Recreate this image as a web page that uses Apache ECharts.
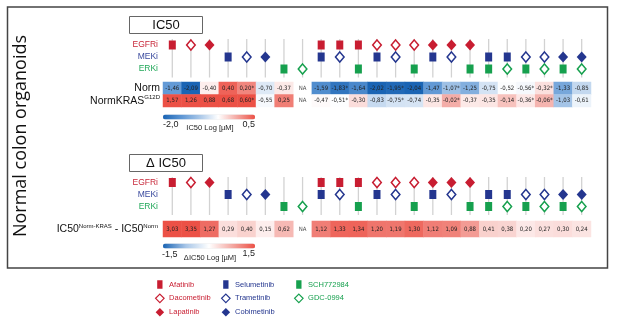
<!DOCTYPE html>
<html>
<head>
<meta charset="utf-8">
<script src="https://cdn.jsdelivr.net/npm/echarts@6/dist/echarts.min.js"></script>
<style>
    html, body { margin: 0; padding: 0; background: #fff; }
    #chart { width: 617px; height: 327px; }
</style>
</head>
<body>
<div id="chart"></div>
<script>
// drugs and their class (row of the marker panel)
const drugs = ["Afatinib", "Dacometinib", "Lapatinib", "Selumetinib", "Trametinib", "Cobimetinib", "SCH772984", "GDC-0994"]
const drugClass = ["EGFRi", "EGFRi", "EGFRi", "MEKi", "MEKi", "MEKi", "ERKi", "ERKi"]
const classRows = ["ERKi", "MEKi", "EGFRi"]

// one entry per column (single drugs then combinations)
const columns = [
    ["Afatinib"], ["Dacometinib"], ["Lapatinib"], ["Selumetinib"], ["Trametinib"], ["Cobimetinib"], ["SCH772984"], ["GDC-0994"],
    ["Afatinib", "Selumetinib"], ["Afatinib", "Trametinib"], ["Afatinib", "SCH772984"],
    ["Dacometinib", "Selumetinib"], ["Dacometinib", "Trametinib"], ["Dacometinib", "SCH772984"],
    ["Lapatinib", "Selumetinib"], ["Lapatinib", "Trametinib"], ["Lapatinib", "SCH772984"],
    ["Selumetinib", "SCH772984"], ["Selumetinib", "GDC-0994"],
    ["Trametinib", "SCH772984"], ["Trametinib", "GDC-0994"],
    ["Cobimetinib", "SCH772984"], ["Cobimetinib", "GDC-0994"]
]

// log IC50 values (null = NA)
const normIC50 = [-1.46, -2.09, -0.40, 0.40, 0.20, -0.70, -0.37, null, -1.59, -1.83, -1.64, -2.02, -1.95, -2.04, -1.47, -1.07, -1.25, -0.75, -0.52, -0.56, -0.32, -1.33, -0.85]
const krasIC50 = [1.57, 1.26, 0.88, 0.68, 0.60, -0.55, 0.25, null, -0.47, -0.51, -0.30, -0.83, -0.75, -0.74, -0.35, -0.02, -0.37, -0.35, -0.14, -0.36, -0.06, -1.03, -0.61]
const deltaIC50 = [3.03, 3.35, 1.27, 0.29, 0.40, 0.15, 0.62, null, 1.12, 1.33, 1.34, 1.20, 1.19, 1.30, 1.12, 1.09, 0.88, 0.41, 0.38, 0.20, 0.27, 0.30, 0.24]
const normStars = [4, 9, 12, 15, 19, 20]
const krasStars = [4, 9, 12, 15, 19, 20]
const deltaStars = []

const RED = "#c81d31", BLUE = "#24368f", GREEN = "#16a04e"
const classColor = { EGFRi: "#c8283a", MEKi: "#3a4a9e", ERKi: "#22a85a" }
const drugColor = [RED, RED, RED, BLUE, BLUE, BLUE, GREEN, GREEN]
const drugShape = ["square", "hollow", "diamond", "square", "hollow", "diamond", "square", "hollow"]
const cellFont = '"Liberation Sans Narrow", "DejaVu Sans Condensed", sans-serif'
const textFont = '"Liberation Sans", Arial, sans-serif'

const fmt = v => v.toFixed(2).replace(".", ",")

let chart = echarts.init(document.getElementById("chart"))

const gridLeft = 163, gridWidth = 428
let grids = [
    { left: gridLeft, width: gridWidth, top: 39, height: 36 },      // markers top
    { left: gridLeft, width: gridWidth, top: 82, height: 25 },      // heatmap top
    { left: gridLeft, width: gridWidth, top: 176.5, height: 36 },   // markers bottom
    { left: gridLeft, width: gridWidth, top: 221, height: 16 }      // heatmap bottom
]
let colNames = columns.map(c => c.join(" + "))
let xAxes = grids.map((g, i) => ({ type: "category", gridIndex: i, data: colNames, show: false }))

let supRich = {
    a: { fontSize: 10.5, fontFamily: textFont, color: "#111", lineHeight: 12 },
    s: { fontSize: 6, fontFamily: textFont, color: "#111", verticalAlign: "top" }
}
let markerYAxis = gi => ({
    type: "category", gridIndex: gi, data: classRows,
    axisLine: { show: false }, axisTick: { show: false }, splitLine: { show: false },
    axisLabel: { interval: 0, hideOverlap: false, margin: 5, fontSize: 8.5, fontFamily: textFont, color: v => classColor[v] }
})
let yAxes = [
    markerYAxis(0),
    {
        type: "category", gridIndex: 1, data: ["NormKRAS", "Norm"],
        axisLine: { show: false }, axisTick: { show: false },
        axisLabel: {
            interval: 0, hideOverlap: false, margin: 3,
            formatter: v => v === "Norm" ? "{a|Norm}" : "{a|NormKRAS}{s|G12D}",
            rich: supRich
        }
    },
    markerYAxis(2),
    {
        type: "category", gridIndex: 3, data: ["delta"],
        axisLine: { show: false }, axisTick: { show: false },
        axisLabel: {
            interval: 0, margin: 5,
            formatter: () => "{a|IC50}{s|Norm-KRAS}{a| - IC50}{s|Norm}",
            rich: supRich
        }
    }
]

let series = []

function stems(gi, above, below) {
    series.push({
        type: "custom", xAxisIndex: gi, yAxisIndex: gi, silent: true, z: 1,
        data: columns.map((c, i) => [i, 0]),
        renderItem: function (params, api) {
            let top = api.coord([api.value(0), 2])
            let bot = api.coord([api.value(0), 0])
            return {
                type: "line",
                shape: { x1: top[0], y1: top[1] - above, x2: bot[0], y2: bot[1] + below },
                style: { stroke: "#d2d2d2", lineWidth: 1.3 }
            }
        }
    })
}

function markers(gi) {
    drugs.forEach((d, k) => {
        let pts = []
        columns.forEach((c, i) => { if (c.includes(d)) pts.push([i, drugClass[k]]) })
        let shape = drugShape[k]
        series.push({
            name: d, type: "scatter", xAxisIndex: gi, yAxisIndex: gi, z: 3, data: pts,
            symbol: shape === "square" ? "rect" : "diamond",
            symbolSize: shape === "square" ? [7, 9] : (shape === "hollow" ? [8.5, 10] : [10, 11]),
            itemStyle: shape === "hollow"
                ? { color: "#fff", borderColor: drugColor[k], borderWidth: 1.6, opacity: 1 }
                : { color: drugColor[k], opacity: 1 },
            emphasis: { disabled: true }
        })
    })
}

function heat(gi, rows, stars) {
    let data = [], na = []
    rows.forEach(r => {
        r.values.forEach((v, i) => {
            if (v === null) na.push([i, r.name])
            else data.push([i, r.name, v])
        })
    })
    series.push({
        type: "heatmap", xAxisIndex: gi, yAxisIndex: gi, data: data,
        label: {
            show: true, fontSize: 6, fontFamily: cellFont, color: "#222",
            formatter: p => fmt(p.value[2]) + (stars[p.value[1]].includes(p.value[0]) ? "*" : "")
        },
        emphasis: { disabled: true }
    })
    let heatIndex = series.length - 1
    series.push({
        type: "scatter", xAxisIndex: gi, yAxisIndex: gi, data: na, symbolSize: 0, silent: true,
        label: { show: true, position: "inside", formatter: "NA", fontSize: 6, fontFamily: cellFont, color: "#222" }
    })
    return heatIndex
}

stems(0, 6, 8.5)
markers(0)
let topHeat = heat(1, [{ name: "Norm", values: normIC50 }, { name: "NormKRAS", values: krasIC50 }],
    { Norm: normStars, NormKRAS: krasStars })
stems(2, 5.5, 8.5)
markers(2)
let bottomHeat = heat(3, [{ name: "delta", values: deltaIC50 }], { delta: deltaStars })

let squareIcon = "path://M0,0H5V8H0Z"
let legendItem = k => ({
    name: drugs[k],
    icon: drugShape[k] === "square" ? squareIcon : "diamond",
    itemStyle: drugShape[k] === "hollow"
        ? { color: "#fff", borderColor: drugColor[k], borderWidth: 1.2 }
        : { color: drugColor[k], borderWidth: 0 },
    textStyle: { color: drugColor[k] }
})
let legendBase = {
    orient: "vertical", top: 280, itemWidth: 8.5, itemHeight: 8.5, itemGap: 4.5, padding: 0,
    selectedMode: false, symbolKeepAspect: true,
    textStyle: { fontSize: 7.5, fontFamily: textFont, lineHeight: 9 }
}

let option = {
    animation: false,
    grid: grids,
    xAxis: xAxes,
    yAxis: yAxes,
    visualMap: [
        {
            type: "continuous", seriesIndex: topHeat, min: -2, max: 0.5,
            orient: "horizontal", left: 163, top: 114.5, itemWidth: 5, itemHeight: 92,
            calculable: false, padding: 0, hoverLink: false,
            inRange: { color: ["#1a64b4", "#5d96d4", "#a9c7e8", "#ffffff", "#f4aaa4", "#ec5146"] }
        },
        {
            type: "continuous", seriesIndex: bottomHeat, min: -1.5, max: 1.5,
            orient: "horizontal", left: 163, top: 243.5, itemWidth: 5, itemHeight: 92,
            calculable: false, padding: 0, hoverLink: false,
            inRange: { color: ["#1a64b4", "#a9c7e8", "#ffffff", "#f4aaa4", "#ec5146"] }
        }
    ],
    legend: [
        Object.assign({ left: 155, data: [0, 1, 2].map(legendItem) }, legendBase),
        Object.assign({ left: 221, data: [3, 4, 5].map(legendItem) }, legendBase),
        Object.assign({ left: 294, data: [6, 7].map(legendItem) }, legendBase)
    ],
    graphic: [
        { type: "rect", shape: { x: 7.5, y: 7, width: 600, height: 261 }, style: { fill: "none", stroke: "#444", lineWidth: 1.5 }, silent: true },
        { type: "text", x: 21, y: 136, rotation: Math.PI / 2, silent: true,
          style: { text: "Normal colon organoids", fontSize: 18, fontFamily: '"Open Sans", sans-serif', fill: "#111", align: "center", verticalAlign: "middle" } },
        { type: "rect", shape: { x: 129.5, y: 16.5, width: 73, height: 17 }, style: { fill: "#fff", stroke: "#666", lineWidth: 1 }, silent: true },
        { type: "text", x: 166, y: 25, silent: true, style: { text: "IC50", fontSize: 13, fontFamily: textFont, fill: "#111", align: "center", verticalAlign: "middle" } },
        { type: "rect", shape: { x: 129.5, y: 154.5, width: 73, height: 17 }, style: { fill: "#fff", stroke: "#666", lineWidth: 1 }, silent: true },
        { type: "text", x: 166, y: 163, silent: true, style: { text: "Δ IC50", fontSize: 13, fontFamily: textFont, fill: "#111", align: "center", verticalAlign: "middle" } },
        { type: "text", x: 163, y: 125, silent: true, style: { text: "-2,0", fontSize: 9, fontFamily: textFont, fill: "#222", align: "left", verticalAlign: "middle" } },
        { type: "text", x: 210, y: 128, silent: true, style: { text: "IC50 Log [µM]", fontSize: 7.5, fontFamily: textFont, fill: "#222", align: "center", verticalAlign: "middle" } },
        { type: "text", x: 255, y: 124.5, silent: true, style: { text: "0,5", fontSize: 9, fontFamily: textFont, fill: "#222", align: "right", verticalAlign: "middle" } },
        { type: "text", x: 162, y: 254.5, silent: true, style: { text: "-1,5", fontSize: 9, fontFamily: textFont, fill: "#222", align: "left", verticalAlign: "middle" } },
        { type: "text", x: 210, y: 257.5, silent: true, style: { text: "ΔIC50 Log [µM]", fontSize: 7.5, fontFamily: textFont, fill: "#222", align: "center", verticalAlign: "middle" } },
        { type: "text", x: 255, y: 254, silent: true, style: { text: "1,5", fontSize: 9, fontFamily: textFont, fill: "#222", align: "right", verticalAlign: "middle" } }
    ],
    series: series
}
chart.setOption(option)
</script>
</body>
</html>
